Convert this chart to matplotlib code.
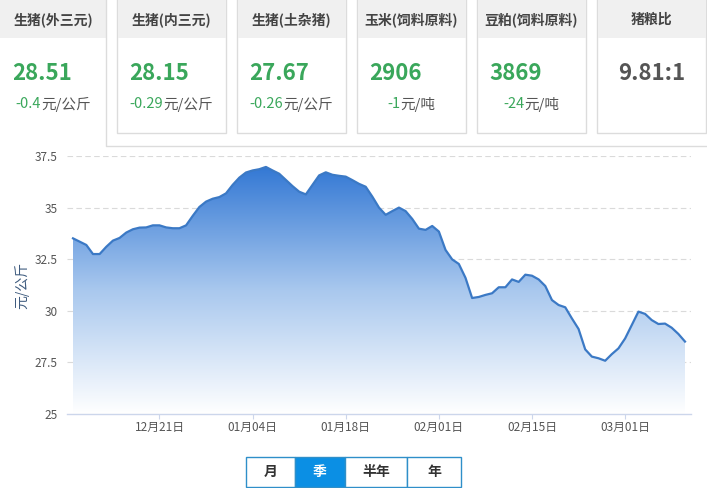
import numpy as np
import pandas as pd
import matplotlib
matplotlib.use('Agg')
import matplotlib.pyplot as plt
import matplotlib.dates as mdates
from matplotlib.patches import Rectangle
from matplotlib.colors import LinearSegmentedColormap

plt.rcParams['font.family'] = ['Noto Sans CJK SC', 'DejaVu Sans']

# top cards
card_titles = ['生猪(外三元)', '生猪(内三元)', '生猪(土杂猪)', '玉米(饲料原料)', '豆粕(饲料原料)', '猪粮比']
card_values = ['28.51', '28.15', '27.67', '2906', '3869', '9.81:1']
card_changes = ['-0.4', '-0.29', '-0.26', '-1', '-24', '']
card_units = ['元/公斤', '元/公斤', '元/公斤', '元/吨', '元/吨', '']

# daily price, 元/公斤, starting 2020-12-08
start_date = '2020-12-08'
prices = [33.51, 33.35, 33.19, 32.75, 32.75, 33.10, 33.40, 33.53, 33.79, 33.95,
          34.03, 34.04, 34.14, 34.14, 34.04, 34.00, 34.00, 34.14, 34.60, 35.03,
          35.29, 35.43, 35.51, 35.69, 36.10, 36.45, 36.70, 36.80, 36.86, 36.97,
          36.80, 36.64, 36.34, 36.04, 35.77, 35.64, 36.10, 36.56, 36.71, 36.59,
          36.54, 36.50, 36.33, 36.15, 36.01, 35.53, 35.00, 34.65, 34.83, 35.00,
          34.83, 34.45, 33.98, 33.92, 34.11, 33.84, 32.95, 32.49, 32.27, 31.60,
          30.62, 30.67, 30.77, 30.85, 31.14, 31.14, 31.52, 31.40, 31.75, 31.70,
          31.52, 31.20, 30.52, 30.28, 30.17, 29.63, 29.12, 28.13, 27.78, 27.70,
          27.58, 27.90, 28.18, 28.66, 29.31, 29.96, 29.85, 29.55, 29.36, 29.38,
          29.18, 28.88, 28.51]
dates = pd.date_range(start_date, periods=len(prices))

tick_dates = pd.to_datetime(['2020-12-21', '2021-01-04', '2021-01-18',
                             '2021-02-01', '2021-02-15', '2021-03-01'])
tick_labels = ['12月21日', '01月04日', '01月18日', '02月01日', '02月15日', '03月01日']
y_ticks = [25, 27.5, 30, 32.5, 35, 37.5]
y_tick_labels = ['25', '27.5', '30', '32.5', '35', '37.5']
buttons = ['月', '季', '半年', '年']
active_button = '季'

W, H = 707, 488
fig = plt.figure(figsize=(W / 100, H / 100), dpi=100)
fig.patch.set_facecolor('white')

# background layer in pixel coordinates
bg = fig.add_axes([0, 0, 1, 1])
bg.set_xlim(0, W)
bg.set_ylim(H, 0)
bg.axis('off')

green = '#3aa75b'
border = '#dcdcdc'
header_bg = '#f0f0f0'

card_lefts = [0, 117, 237, 357, 477, 597]
card_rights = [106, 226, 346, 466, 586, 706]
renderer = fig.canvas.get_renderer()

for i in range(len(card_titles)):
    l, r = card_lefts[i], card_rights[i]
    cx = (l + r) / 2
    if i == 0:
        bg.add_patch(Rectangle((l, -1), r - l, 39, facecolor=header_bg, edgecolor='none'))
    else:
        bg.add_patch(Rectangle((l, -1), r - l, 134, facecolor='white', edgecolor=border, lw=1))
        bg.add_patch(Rectangle((l + 0.5, -1), r - l - 1, 39, facecolor=header_bg, edgecolor='none'))
    bg.text(cx, 20, card_titles[i], ha='center', va='center', fontsize=10,
            color='#444444', fontweight='bold')
    if card_changes[i]:
        bg.text(l + 12, 74, card_values[i], ha='left', va='center', fontsize=16,
                color=green, fontweight='bold')
        t1 = bg.text(0, 104, card_changes[i], ha='left', va='center', fontsize=10.5, color=green)
        t2 = bg.text(0, 104, card_units[i], ha='left', va='center', fontsize=10.5, color='#555555')
        w1 = t1.get_window_extent(renderer).width
        w2 = t2.get_window_extent(renderer).width
        x0 = cx - (w1 + w2) / 2
        t1.set_x(x0)
        t2.set_x(x0 + w1)
    else:
        bg.text(cx, 74, card_values[i], ha='center', va='center', fontsize=16,
                color='#555555', fontweight='bold')

# panel outline under the first card
bg.plot([106, 106, W], [-1, 146, 146], color=border, lw=1)

# buttons
btn_edges = [246, 295, 345, 407, 461]
for i, b in enumerate(buttons):
    l, r = btn_edges[i], btn_edges[i + 1]
    on = b == active_button
    bg.add_patch(Rectangle((l, 457), r - l, 30, facecolor='#0b8fe4' if on else 'white',
                           edgecolor='#2f8fc9', lw=1))
    bg.text((l + r) / 2, 472, b, ha='center', va='center', fontsize=10,
            color='white' if on else '#333333', fontweight='bold')

# price chart
x0, x1, ytop, ybot = 67, 691, 156, 414
ax = fig.add_axes([x0 / W, 1 - ybot / H, (x1 - x0) / W, (ybot - ytop) / H])
ax.patch.set_alpha(0)

xn = mdates.date2num(dates)
xmin = xn[0] - 6 / 6.64
xmax = xn[-1] + 6 / 6.64

cmap = LinearSegmentedColormap.from_list('fade', ['#ffffff', '#a9c8ee', '#3378d4'])
grad = np.linspace(0, 1, 256).reshape(-1, 1)
poly = ax.fill_between(xn, prices, 25, facecolor='none', edgecolor='none')
img = ax.imshow(grad, extent=[xn[0], xn[-1], 25, max(prices)], origin='lower',
                aspect='auto', cmap=cmap, zorder=1)
img.set_clip_path(poly.get_paths()[0], transform=ax.transData)
ax.plot(xn, prices, color='#3b79c5', lw=1.6, zorder=3)

ax.set_xlim(xmin, xmax)
ax.set_ylim(25, 37.5)
ax.set_yticks(y_ticks)
ax.set_yticklabels(y_tick_labels)
ax.set_xticks(mdates.date2num(tick_dates))
ax.set_xticklabels(tick_labels)
ax.tick_params(axis='y', length=0, pad=6.5, labelsize=8.5, labelcolor='#555555')
ax.tick_params(axis='x', length=3.8, width=0.8, color='#ccd6eb', pad=1.5,
               labelsize=8.5, labelcolor='#555555')
for yv in y_ticks[1:]:
    ax.axhline(yv, color='#dadada', lw=0.8, ls=(0, (5, 3)), zorder=0)
for s in ['top', 'right', 'left']:
    ax.spines[s].set_visible(False)
ax.spines['bottom'].set_color('#ccd6eb')
ax.spines['bottom'].set_linewidth(1)
ax.set_ylabel('元/公斤', fontsize=10, color='#3e5b7e', labelpad=4)

fig.savefig('out.png', dpi=100)
